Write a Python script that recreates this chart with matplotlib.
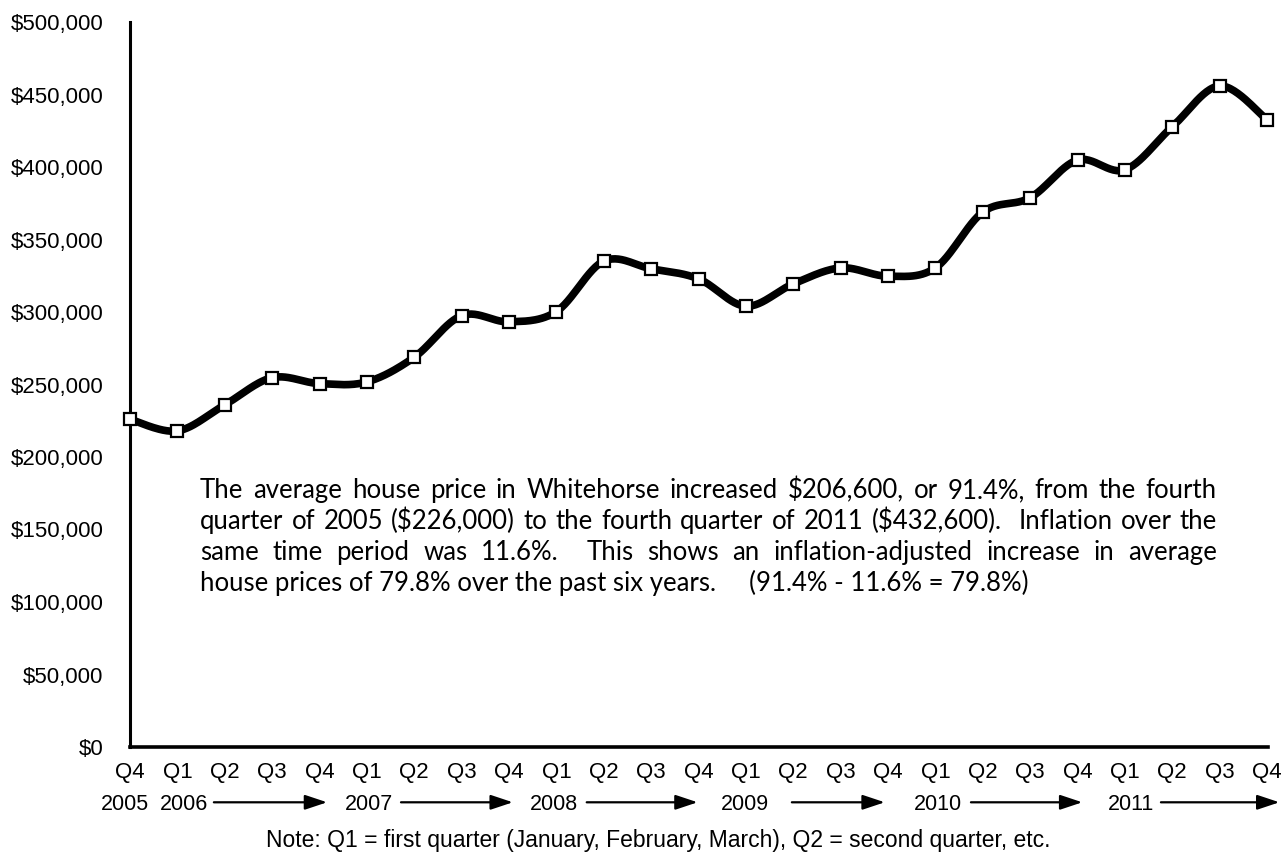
import re
import numpy as np
import matplotlib.pyplot as plt
from matplotlib import transforms

# Data: average house price in Whitehorse by quarter
quarters = ['Q4', 'Q1', 'Q2', 'Q3', 'Q4', 'Q1', 'Q2', 'Q3', 'Q4', 'Q1', 'Q2', 'Q3', 'Q4',
            'Q1', 'Q2', 'Q3', 'Q4', 'Q1', 'Q2', 'Q3', 'Q4', 'Q1', 'Q2', 'Q3', 'Q4']
years = [2005, 2006, 2006, 2006, 2006, 2007, 2007, 2007, 2007, 2008, 2008, 2008, 2008,
         2009, 2009, 2009, 2009, 2010, 2010, 2010, 2010, 2011, 2011, 2011, 2011]
prices = [226000, 218000, 236000, 254700, 250600, 251800, 268800, 297500, 293200,
          300300, 335100, 329800, 322900, 304000, 319400, 330400, 324700, 330400,
          368900, 378800, 404800, 398100, 427800, 455900, 432600]

para_lines = [
    "The average house price in Whitehorse increased $206,600, or 91.4%, from the fourth",
    "quarter of 2005 ($226,000) to the fourth quarter of 2011 ($432,600).  Inflation over the",
    "same time period was 11.6%.  This shows an inflation-adjusted increase in average",
    "house prices of 79.8% over the past six years.     (91.4% - 11.6% = 79.8%)",
]
note = "Note: Q1 = first quarter (January, February, March), Q2 = second quarter, etc."

# layout: small shifts of the year labels and the arrow spans after them (in quarters)
year_shift = [-0.1, 0.15, 0.05, -0.05, -0.03, 0.05, 0.12]
arrow_spans = [(0.77, 3.16), (0.72, 3.08), (0.64, 2.98), (0.97, 2.93), (0.75, 3.10), (0.76, 3.26)]

W, H = 1284, 852
fig = plt.figure(figsize=(W / 100, H / 100), dpi=100)
ax = fig.add_axes([130 / W, 1 - 747 / H, (1268 - 130) / W, (747 - 22) / H])

x = np.arange(len(prices))
y = np.array(prices, dtype=float)


# smoothed line (Catmull-Rom style bezier, like a spreadsheet "smoothed line")
def smooth(xs, ys, n=30):
    px = np.concatenate([[xs[0]], xs, [xs[-1]]])
    py = np.concatenate([[ys[0]], ys, [ys[-1]]])
    t = np.linspace(0, 1, n)[:, None]
    out = []
    for i in range(1, len(px) - 2):
        p0 = np.array([px[i], py[i]])
        p3 = np.array([px[i + 1], py[i + 1]])
        c1 = p0 + (p3 - np.array([px[i - 1], py[i - 1]])) / 6
        c2 = p3 - (np.array([px[i + 2], py[i + 2]]) - p0) / 6
        seg = ((1 - t) ** 3) * p0 + 3 * ((1 - t) ** 2) * t * c1 + 3 * (1 - t) * t ** 2 * c2 + t ** 3 * p3
        out.append(seg)
    out = np.vstack(out)
    return out[:, 0], out[:, 1]


sx, sy = smooth(x, y)
ax.plot(sx, sy, color='black', lw=5.5, solid_capstyle='round', zorder=3, clip_on=False)
ax.plot(x, y, linestyle='none', marker='s', markersize=8, markerfacecolor='white',
        markeredgecolor='black', markeredgewidth=1.6, zorder=4, clip_on=False)

ax.set_xlim(0, 24.02)
ax.set_ylim(0, 500000)
for s in ['top', 'right']:
    ax.spines[s].set_visible(False)
ax.spines['left'].set_linewidth(2.2)
ax.spines['bottom'].set_linewidth(2.6)

ax.set_yticks(np.arange(0, 500001, 50000))
ax.set_yticklabels(['${:,.0f}'.format(v) for v in np.arange(0, 500001, 50000)])
ax.tick_params(axis='y', length=0, pad=19, labelsize=16)
ax.set_xticks(x)
ax.set_xticklabels(quarters)
ax.tick_params(axis='x', length=0, pad=11, labelsize=16)
for lab in ax.get_xticklabels() + ax.get_yticklabels():
    lab.set_fontfamily('Liberation Sans')

# year labels with arrows
trans = transforms.blended_transform_factory(ax.transData, fig.transFigure)
year_y = 1 - 804 / H
first_idx = [i for i in range(len(years)) if i == 0 or years[i] != years[i - 1]]
for k, i in enumerate(first_idx):
    ax.text(i + year_shift[k], year_y, str(years[i]), transform=trans, ha='center',
            va='center', fontsize=15.5, family='Liberation Sans')
    if k > 0:
        a, b = arrow_spans[k - 1]
        ax.annotate('', xy=(i + b, year_y + 0.002), xytext=(i + a, year_y + 0.002),
                    xycoords=trans, textcoords=trans, annotation_clip=False,
                    arrowprops=dict(arrowstyle='-|>,head_length=0.9,head_width=0.3',
                                    lw=1.6, color='black', mutation_scale=15,
                                    shrinkA=0, shrinkB=0))

fig.text(658 / W, 1 - 840 / H, note, ha='center', va='center', fontsize=16.5,
         family='Liberation Sans')

# justified paragraph
left_px, right_px = 200, 1217
fsize = 18.5
fig.canvas.draw()
renderer = fig.canvas.get_renderer()
for k, line in enumerate(para_lines):
    base = 1 - (498 + 31 * k) / H
    if k == len(para_lines) - 1:
        fig.text(left_px / W, base, line, fontsize=fsize, family='Lato', va='baseline',
                 parse_math=False)
        continue
    parts = re.split(r'( +)', line)
    words = parts[0::2]
    gaps = [len(g) for g in parts[1::2]]
    objs = [fig.text(0, base, w, fontsize=fsize, family='Lato', va='baseline',
                     parse_math=False) for w in words]
    widths = [o.get_window_extent(renderer).width for o in objs]
    free = (right_px - left_px) - sum(widths)
    pos = left_px
    for j, o in enumerate(objs):
        o.set_x(pos / W)
        pos += widths[j]
        if j < len(gaps):
            pos += free * gaps[j] / sum(gaps)

fig.savefig('out.png', dpi=100)
